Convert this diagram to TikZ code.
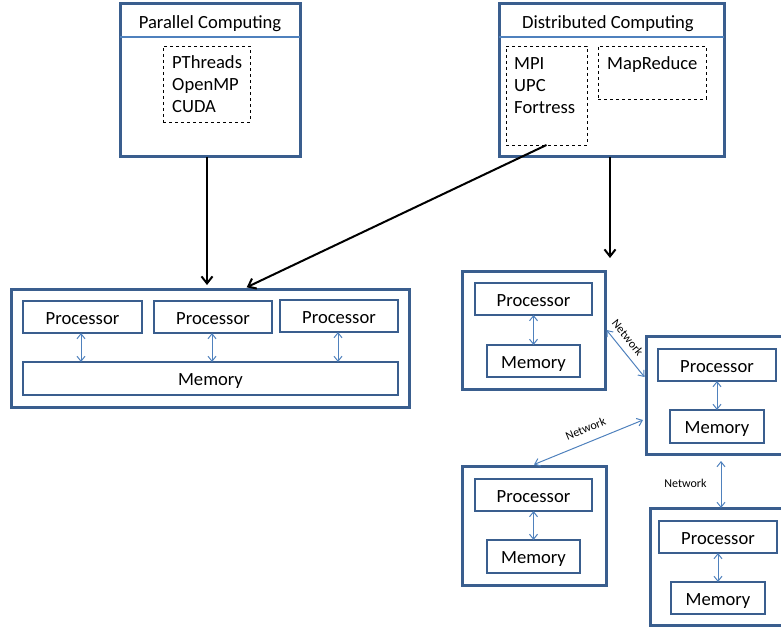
\documentclass[tikz,border=0pt]{standalone}
\usepackage{fontspec}
\setmainfont{Carlito}
\usetikzlibrary{arrows.meta}
\definecolor{frameblue}{RGB}{58,94,142}
\definecolor{lineblue}{RGB}{79,129,189}
\tikzset{
  outerbox/.style={draw=frameblue, line width=3pt, fill=white, inner sep=0pt, outer sep=0pt},
  innerbox/.style={draw=frameblue, line width=2pt, fill=white, inner sep=0pt, outer sep=0pt, text height=14pt, text depth=0pt, font=\fontsize{18.6}{22}\selectfont},
  dashbox/.style={draw=black, dashed, line width=0.8pt, inner sep=0pt, outer sep=0pt},
  txt/.style={inner sep=0pt, font=\fontsize{18.6}{22}\selectfont},
  hdr/.style={draw=lineblue, line width=1.2pt},
  bigarrow/.style={draw=black, line width=2pt, -{Straight Barb[length=7pt,width=11pt]}},
  barrow/.style={draw=lineblue, line width=1pt, {Straight Barb[length=5pt,width=8pt]}-{Straight Barb[length=5pt,width=8pt]}},
  net/.style={inner sep=2pt, font=\fontsize{12}{14}\selectfont}
}
\begin{document}
\begin{tikzpicture}[x=1pt,y=-1pt]
\useasboundingbox (0,0) rectangle (781,628);
\clip (0,0) rectangle (781,628);

% ---- Parallel Computing
\node[outerbox, minimum width=180pt, minimum height=153pt] (par) at (210,80.5) {};
\draw[hdr] ([yshift=-33pt]par.north west) -- ([yshift=-33pt]par.north east);
\node[txt, anchor=base] (partitle) at (210,29) {Parallel Computing};
\node[dashbox, minimum width=87pt, minimum height=76pt] (pt) at (206.5,84) {};
\node[txt, anchor=base west] (pt1) at (172,69) {PThreads};
\node[txt, anchor=base west] (pt2) at (172,91) {OpenMP};
\node[txt, anchor=base west] (pt3) at (172,113) {CUDA};

% ---- Distributed Computing
\node[outerbox, minimum width=225pt, minimum height=153pt] (dist) at (611.5,80.5) {};
\draw[hdr] ([yshift=-33pt]dist.north west) -- ([yshift=-33pt]dist.north east);
\node[txt, anchor=base] (disttitle) at (608,29) {Distributed Computing};
\node[dashbox, minimum width=81pt, minimum height=99pt] (mpi) at (546.5,95.5) {};
\node[txt, anchor=base west] (mpi1) at (514,70) {MPI};
\node[txt, anchor=base west] (mpi2) at (514,92) {UPC};
\node[txt, anchor=base west] (mpi3) at (514,114) {Fortress};
\node[dashbox, minimum width=108pt, minimum height=53pt] (mr) at (652,72.5) {};
\node[txt, anchor=base west] (mr1) at (607,70) {MapReduce};

% ---- Shared memory machine
\node[outerbox, minimum width=398pt, minimum height=118pt] (L) at (210,348) {};
\node[innerbox, minimum width=119pt, minimum height=32pt] (P1) at (82.5,317) {Processor};
\node[innerbox, minimum width=118pt, minimum height=32pt] (P2) at (213,317) {Processor};
\node[innerbox, minimum width=118pt, minimum height=32pt] (P3) at (339,316) {Processor};
\node[innerbox, minimum width=375pt, minimum height=33pt] (M) at (210.5,378.5) {Memory};
\draw[barrow] ([xshift=-1.5pt]P1.south) -- ([xshift=-1.5pt]P1.south |- M.north);
\draw[barrow] ([xshift=-1pt]P2.south) -- ([xshift=-1pt]P2.south |- M.north);
\draw[barrow] ([xshift=-1pt]P3.south) -- ([xshift=-1pt]P3.south |- M.north);

% ---- Distributed nodes
\node[outerbox, minimum width=143pt, minimum height=118pt] (A) at (533.5,330) {};
\node[innerbox, minimum width=117pt, minimum height=32pt] (AP) at (533.5,299) {Processor};
\node[innerbox, minimum width=93pt, minimum height=32pt] (AM) at (533.5,361) {Memory};
\draw[barrow] (AP.south) -- (AM.north);

\node[outerbox, minimum width=154pt, minimum height=118pt] (B) at (723,395) {};
\node[innerbox, minimum width=118pt, minimum height=32pt] (BP) at (717,365) {Processor};
\node[innerbox, minimum width=94pt, minimum height=33pt] (BM) at (717,426.5) {Memory};
\draw[barrow] (BP.south) -- (BM.north);

\node[outerbox, minimum width=144pt, minimum height=119pt] (C) at (534,525.5) {};
\node[innerbox, minimum width=117pt, minimum height=32pt] (CP) at (533.5,495) {Processor};
\node[innerbox, minimum width=93pt, minimum height=33pt] (CM) at (533.5,556.5) {Memory};
\draw[barrow] (CP.south) -- (CM.north);

\node[outerbox, minimum width=150pt, minimum height=117pt] (D) at (725,566.5) {};
\node[innerbox, minimum width=118pt, minimum height=32pt] (DP) at (718,537) {Processor};
\node[innerbox, minimum width=94pt, minimum height=32pt] (DM) at (718,598) {Memory};
\draw[barrow] (DP.south) -- (DM.north);

% ---- Network links
\draw[barrow] ([xshift=1.5pt]A.east) -- ([yshift=18pt,xshift=-1.5pt]B.west)
  node[net, pos=0.32, sloped, above=5pt] {Network};
\draw[barrow] ([yshift=1.5pt]C.north) -- ([yshift=-25pt,xshift=-3pt]B.west)
  node[net, pos=0.52, sloped, above=7pt] {Network};
\draw[barrow, shorten <=7pt] ([xshift=-2pt]B.south) -- ([xshift=-4pt]D.north)
  node[net, midway, left, xshift=-12pt, yshift=-2pt] {Network};

% ---- Black arrows
\draw[bigarrow, shorten >=4pt] ([xshift=-3pt]par.south) -- ([xshift=-3pt]par.south |- L.north);
\draw[bigarrow, shorten >=4pt] (mpi.south) -- ([xshift=33pt]L.north);
\draw[bigarrow, shorten >=13pt] ([xshift=-1.5pt]dist.south) -- ([xshift=-1.5pt]dist.south |- A.north);
\end{tikzpicture}
\end{document}
